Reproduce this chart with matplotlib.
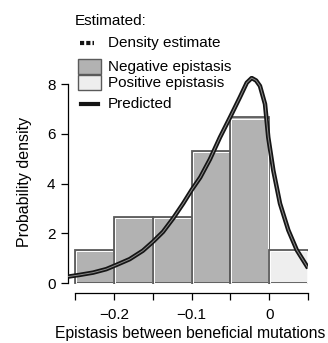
import numpy as np
import matplotlib
matplotlib.use('Agg')
import matplotlib.pyplot as plt
from matplotlib.lines import Line2D
from matplotlib.patches import Rectangle

plt.rcParams['font.family'] = ['Liberation Sans', 'DejaVu Sans']

# histogram of estimated epistasis
bin_left = [-0.25, -0.20, -0.15, -0.10, -0.05, 0.00]
bin_height = [1.33, 2.67, 2.67, 5.33, 6.67, 1.33]
bin_width = 0.05

# predicted density curve
curve_x = [-0.259, -0.244, -0.227, -0.210, -0.197, -0.180, -0.163, -0.150, -0.137,
           -0.124, -0.111, -0.100, -0.089, -0.0765, -0.0636, -0.0507, -0.0378,
           -0.029, -0.0227, -0.017, -0.012, -0.0055, -0.0013, 0.0052, 0.0138,
           0.0245, 0.0354, 0.050]
curve_y = [0.26, 0.33, 0.42, 0.56, 0.73, 0.96, 1.30, 1.66, 2.06,
           2.60, 3.20, 3.75, 4.25, 4.98, 5.86, 6.66, 7.48,
           8.06, 8.25, 8.15, 7.93, 7.20, 5.86, 4.53, 3.20,
           2.13, 1.33, 0.60]

fig = plt.figure(figsize=(3.28, 3.43), dpi=100)
ax = fig.add_axes([0.2073, 0.1458, 0.732, 0.634])

for i in range(len(bin_left)):
	fc = '#eeeeee' if bin_left[i] >= 0 else '#b2b2b2'
	ax.bar(bin_left[i], bin_height[i], width=bin_width, align='edge',
		color=fc, edgecolor='#5a5a5a', linewidth=1.3, zorder=2)
	ax.bar(bin_left[i] + 0.0012, bin_height[i] - 0.06, width=bin_width - 0.0024,
		align='edge', fill=False, edgecolor='white', linewidth=0.7, zorder=2)

ax.plot(curve_x, curve_y, color='#151515', lw=3.2, solid_capstyle='butt',
	solid_joinstyle='round', zorder=3)
ax.plot(curve_x, curve_y, color='#8a8a8a', lw=0.7, solid_joinstyle='round', zorder=4)

ax.set_xlim(-0.2594, 0.05)
ax.set_ylim(-0.4, 8.35)
for s in ['top', 'right']:
	ax.spines[s].set_visible(False)
ax.spines['left'].set_bounds(0, 8)
ax.spines['bottom'].set_bounds(-0.25, 0.05)
ax.spines['left'].set_linewidth(0.9)
ax.spines['bottom'].set_linewidth(0.9)

ax.set_xticks([-0.25, -0.2, -0.15, -0.1, -0.05, 0, 0.05])
ax.set_xticklabels(['', '\u22120.2', '', '\u22120.1', '', '0', ''])
ax.set_yticks([0, 2, 4, 6, 8])
ax.tick_params(direction='out', length=5, width=0.9, labelsize=11, pad=4)
ax.tick_params(axis='x', pad=6)
ax.set_ylabel('Probability density', fontsize=11.5)
ax.yaxis.set_label_coords(-0.15, 0.51)
ax.set_xlabel('Epistasis between beneficial mutations', fontsize=11.3)
ax.xaxis.set_label_coords(0.51, -0.15)

# legend drawn by hand above the axes
def fx(px):
	return px / 328.0
def fy(py):
	return 1 - py / 343.0

fig.text(fx(75), fy(21), 'Estimated:', fontsize=11, va='center', ha='left')
fig.add_artist(Line2D([fx(80), fx(94)], [fy(43), fy(43)], color='#151515',
	lw=3, linestyle=(0, (1, 0.5))))
fig.text(fx(108), fy(43), 'Density estimate', fontsize=11, va='center')
fig.add_artist(Rectangle((fx(78), fy(74)), fx(23), 1 / 343.0 * 15,
	facecolor='#b2b2b2', edgecolor='#5a5a5a', lw=1))
fig.text(fx(108), fy(67), 'Negative epistasis', fontsize=11, va='center')
fig.add_artist(Rectangle((fx(78), fy(90)), fx(23), 1 / 343.0 * 15,
	facecolor='#eeeeee', edgecolor='#5a5a5a', lw=1))
fig.text(fx(108), fy(83), 'Positive epistasis', fontsize=11, va='center')
fig.add_artist(Line2D([fx(81), fx(98)], [fy(104), fy(104)], color='#151515', lw=3))
fig.text(fx(108), fy(104), 'Predicted', fontsize=11, va='center')

fig.savefig('out.png', dpi=100)
